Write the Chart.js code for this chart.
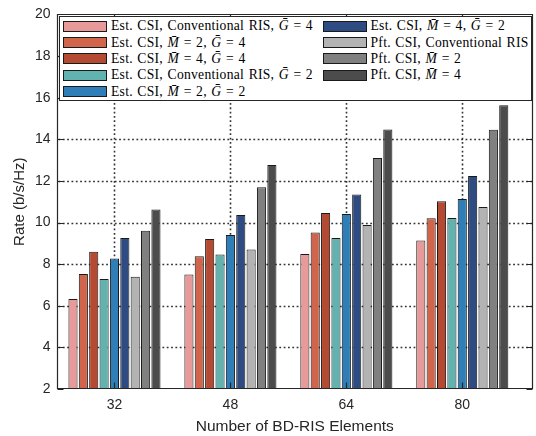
<!DOCTYPE html>
<html><head><meta charset="utf-8">
<script src="https://cdn.jsdelivr.net/npm/chart.js@4"></script>
<style>
html,body{margin:0;padding:0;background:#fff;}
#wrap{position:relative;width:536px;height:436px;overflow:hidden;}
#c{position:absolute;left:0;top:0;}
#legend{position:absolute;left:59px;top:16px;width:473px;height:85px;box-sizing:border-box;border:1px solid #262626;background:#fff;font-family:"Liberation Serif","Times New Roman",serif;font-size:13px;color:#000;}
.item{position:absolute;height:16px;}
.sw{position:absolute;left:0;top:2.5px;width:44px;height:11px;box-sizing:border-box;border:1px solid #1a1a1a;}
.tx{position:absolute;left:48px;top:0;line-height:16px;white-space:nowrap;letter-spacing:0.02em;word-spacing:0.06em;}
</style>
</head><body>
<div id="wrap"><canvas id="c" width="536" height="436"></canvas><div id="legend"></div></div>
<script>
const categories = ['32', '48', '64', '80'];
const seriesLabels = [
  'Est. CSI, Conventional RIS, Ḡ = 4',
  'Est. CSI, M̄ = 2, Ḡ = 4',
  'Est. CSI, M̄ = 4, Ḡ = 4',
  'Est. CSI, Conventional RIS, Ḡ = 2',
  'Est. CSI, M̄ = 2, Ḡ = 2',
  'Est. CSI, M̄ = 4, Ḡ = 2',
  'Pft. CSI, Conventional RIS',
  'Pft. CSI, M̄ = 2',
  'Pft. CSI, M̄ = 4'
];
const estConvG4 = [6.32, 7.50, 8.49, 9.13];
const estM2G4   = [7.53, 8.38, 9.52, 10.20];
const estM4G4   = [8.59, 9.21, 10.46, 11.02];
const estConvG2 = [7.29, 8.46, 9.26, 10.22];
const estM2G2   = [8.27, 9.40, 10.41, 11.13];
const estM4G2   = [9.26, 10.36, 11.34, 12.23];
const pftConv   = [7.39, 8.70, 9.88, 10.75];
const pftM2     = [9.61, 11.69, 13.10, 14.46];
const pftM4     = [10.62, 12.76, 14.47, 15.64];
const yTicks = [2, 4, 6, 8, 10, 12, 14, 16, 18, 20];
const xTicks = [1, 2, 3, 4];

const seriesValues = [estConvG4, estM2G4, estM4G4, estConvG2, estM2G2, estM4G2, pftConv, pftM2, pftM4];
const colors = ['#E89A9B', '#D0654B', '#B54A33', '#62B3B0', '#2F7EB7', '#2E4B82', '#B3B3B3', '#808080', '#4C4C4C'];

const datasets = seriesValues.map((vals, i) => ({
  label: seriesLabels[i],
  data: vals.map((v, j) => ({x: xTicks[j], y: v})),
  backgroundColor: colors[i],
  borderColor: '#1a1a1a',
  borderWidth: 1,
  borderSkipped: 'start',
  categoryPercentage: 0.805,
  barPercentage: 0.88
}));

// dotted MATLAB-style grid, drawn behind the bars
const dottedGrid = {
  id: 'dottedGrid',
  beforeDatasetsDraw(chart) {
    const ctx = chart.ctx, a = chart.chartArea;
    const xs = chart.scales.x, ys = chart.scales.y;
    ctx.save();
    ctx.strokeStyle = '#333333';
    ctx.lineWidth = 1.6;
    ctx.setLineDash([1.8, 2.53]);
    ctx.beginPath();
    yTicks.forEach(v => {
      const y = Math.round(ys.getPixelForValue(v)) + 0.5;
      if (y <= a.top + 2 || y >= a.bottom - 2) return;
      ctx.moveTo(a.left + 2, y); ctx.lineTo(a.right - 1, y);
    });
    xTicks.forEach(v => {
      const x = Math.round(xs.getPixelForValue(v)) + 0.5;
      ctx.moveTo(x, a.top + 2); ctx.lineTo(x, a.bottom - 1);
    });
    ctx.stroke();
    ctx.restore();
  }
};

const frame = {
  id: 'frame',
  afterDatasetsDraw(chart) {
    const ctx = chart.ctx, a = chart.chartArea;
    const xs = chart.scales.x, ys = chart.scales.y;
    ctx.save();
    ctx.strokeStyle = '#262626';
    ctx.lineWidth = 1.2;
    ctx.setLineDash([]);
    ctx.beginPath();
    const L = Math.round(a.left) + 0.5, R = Math.round(a.right) - 0.5, T = Math.round(a.top) + 0.5, B = Math.round(a.bottom) - 0.5;
    ctx.rect(L, T, R - L, B - T);
    const tl = 6;
    yTicks.forEach(v => {
      const y = Math.round(ys.getPixelForValue(v)) + 0.5;
      ctx.moveTo(L, y); ctx.lineTo(L + tl, y);
      ctx.moveTo(R, y); ctx.lineTo(R - tl, y);
    });
    xTicks.forEach(v => {
      const x = Math.round(xs.getPixelForValue(v)) + 0.5;
      ctx.moveTo(x, B); ctx.lineTo(x, B - tl);
      ctx.moveTo(x, T); ctx.lineTo(x, T + tl);
    });
    ctx.stroke();
    ctx.restore();
  }
};

const chart = new Chart(document.getElementById('c'), {
  type: 'bar',
  data: {datasets},
  options: {
    responsive: false,
    animation: false,
    devicePixelRatio: 1,
    layout: {padding: {left: 0, top: 13, right: 3, bottom: 0}},
    plugins: {legend: {display: false}, tooltip: {enabled: false}},
    scales: {
      x: {
        type: 'linear',
        min: 0.5,
        max: 4.61,
        offset: false,
        afterBuildTicks: s => { s.ticks = xTicks.map(v => ({value: v})); },
        afterFit: s => { s.height = 47; },
        ticks: {
          callback: v => categories[xTicks.indexOf(v)],
          font: {family: '"Liberation Sans", Arial, sans-serif', size: 14},
          color: '#262626',
          padding: 8,
          maxRotation: 0,
          autoSkip: false
        },
        grid: {display: false, drawTicks: false, offset: false},
        border: {display: false},
        title: {
          display: true,
          text: 'Number of BD-RIS Elements',
          font: {family: '"Liberation Sans", Arial, sans-serif', size: 15.5},
          color: '#262626',
          padding: {top: 0, bottom: 0}
        }
      },
      y: {
        min: 2,
        max: 20,
        afterBuildTicks: s => { s.ticks = yTicks.map(v => ({value: v})); },
        afterFit: s => { s.width = 56.5; },
        ticks: {
          font: {family: '"Liberation Sans", Arial, sans-serif', size: 14},
          color: '#262626',
          padding: 6
        },
        grid: {display: false, drawTicks: false},
        border: {display: false},
        title: {
          display: true,
          text: 'Rate (b/s/Hz)',
          font: {family: '"Liberation Sans", Arial, sans-serif', size: 15},
          color: '#262626',
          padding: {top: 11, bottom: 0}
        }
      }
    }
  },
  plugins: [dottedGrid, frame]
});

// HTML legend (two columns, column-major)
const leg = document.getElementById('legend');
function fmt(s) {
  return s.replace(/M̄/g, '<i>M̄</i>').replace(/Ḡ/g, '<i>Ḡ</i>');
}
const texts = [];
datasets.forEach((d, i) => {
  const col = i < 5 ? 0 : 1;
  const row = i < 5 ? i : i - 5;
  const it = document.createElement('div');
  it.className = 'item';
  it.style.left = (col === 0 ? 3 : 262.5) + 'px';
  it.style.top = (1.3 + row * 16.3) + 'px';
  const sw = document.createElement('div');
  sw.className = 'sw';
  sw.style.background = d.backgroundColor;
  const tx = document.createElement('div');
  tx.className = 'tx';
  tx.innerHTML = fmt(d.label);
  it.appendChild(sw); it.appendChild(tx);
  leg.appendChild(it);
  texts.push(tx);
});
// fit legend font so the longest entry spans the same width as in the reference (~202px)
const w0 = texts[0].getBoundingClientRect().width;
const fs = Math.max(11, Math.min(15, 13 * 202 / w0));
leg.style.fontSize = fs.toFixed(2) + 'px';
</script>
</body></html>
